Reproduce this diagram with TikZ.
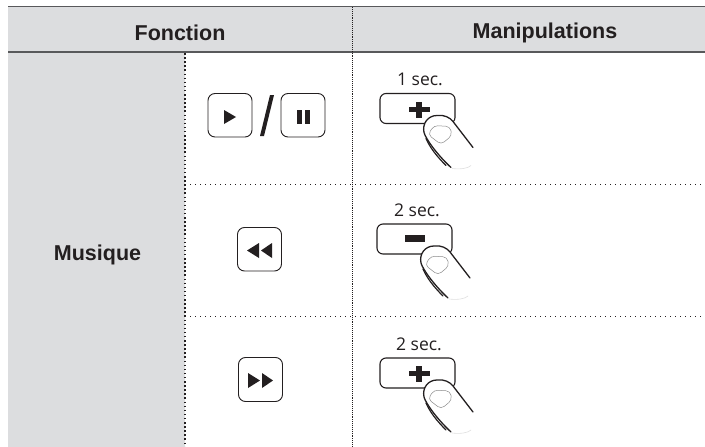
\documentclass[tikz,border=0pt]{standalone}
\usepackage{fontspec}
\setmainfont{Liberation Sans}
\newfontfamily\capfont{Open Sans}
\definecolor{hdrgray}{HTML}{DCDDDF}
\definecolor{ink}{HTML}{231F20}
\definecolor{rulegray}{HTML}{58595B}
\tikzset{
  headtext/.style={font=\fontsize{21.5}{24}\selectfont\bfseries,text=ink,inner sep=0pt,anchor=base},
  sectext/.style={font=\capfont\fontsize{17.5}{19}\selectfont,text=ink,inner sep=0pt,anchor=base},
  iconbtn/.style={draw=ink,line width=0.9pt,rounded corners=7pt,fill=white},
  pressbtn/.style={draw=ink,line width=1.1pt,rounded corners=6pt,fill=white},
  hdots/.style={draw=ink,line width=1pt,dash pattern=on 1pt off 4pt},
  vdotsheavy/.style={draw=ink,line width=1.2pt,dash pattern=on 1.5pt off 2.6pt},
  vdotsfine/.style={draw=ink,line width=0.8pt,dash pattern=on 0.9pt off 1pt},
  headrule/.style={draw=rulegray,line width=1.5pt},
  solidicon/.style={fill=ink,draw=none}
}
% #1 x, #2 y of the key's corner, #3 symbol (0 minus, 1 plus), #4 caption, #5 caption x, #6 caption baseline y
\newcommand{\presskey}[6]{%
\begin{scope}[shift={(#1,#2)}]
  \draw[pressbtn] (0,0) rectangle (75,30);
  \ifnum#3=1
    \fill[solidicon] (39-10.5,13) rectangle (39+10.5,18);
    \fill[solidicon] (39-2.8,8) rectangle (39+2.8,24);
  \else
    \fill[solidicon] (28,11) rectangle (48,18);
  \fi
  \node[sectext] at (#5,#6) {#4};
  \fill[white] (71,75) .. controls (58,62) and (46,46) .. (44,39)
     .. controls (42,30) and (48,22) .. (57,22)
     .. controls (64,21) and (70,24) .. (73,28) -- (94,55) -- (94,75) -- cycle;
  \draw[ink,line width=1.3pt,line cap=round] (71,74) .. controls (58,62) and (46,46) .. (44,39)
     .. controls (42,30) and (48,22) .. (57,22)
     .. controls (64,21) and (70,24) .. (73,28) -- (93,54);
  \draw[ink,line width=1.2pt,line cap=round] (66,72) .. controls (56,62) and (50,54) .. (46,45);
  \draw[black!45,line width=0.5pt,rounded corners=4pt] (48,41) -- (54,32) -- (70,33) -- (72,42) -- (61,51) -- cycle;
  \draw[black!12,line width=0.6pt] (72,75) .. controls (80,76) and (88,75) .. (91,72);
\end{scope}}
\begin{document}
\begin{tikzpicture}[x=1pt,y=-1pt]
\useasboundingbox (0,0) rectangle (705,447);
% backgrounds
\fill[hdrgray] (8,7) rectangle (705,52);
\fill[hdrgray] (8,52) rectangle (185,447);
\draw[headrule] (8,6.5) -- (705,6.5);
\draw[headrule] (8,52) -- (705,52);
% dotted grid
\draw[vdotsheavy] (185,53) -- (185,447);
\draw[vdotsfine] (352.5,7) -- (352.5,447);
\draw[hdots] (185,184) -- (705,184);
\draw[hdots] (185,316) -- (705,316);
% head text
\node[headtext] (fonction) at (180,41) {Fonction};
\node[headtext] (manip) at (545,38) {Manipulations};
\node[headtext] (musique) at (97.5,260) {Musique};
% icon buttons
\draw[iconbtn] (208,93.5) rectangle (252,137);
\fill[solidicon] (224,110) -- (236,117) -- (224,124) -- cycle;
\fill[ink] (260,136) -- (270,95) -- (274,95) -- (264,136) -- cycle;
\draw[iconbtn] (281,93.5) rectangle (325,137);
\fill[solidicon] (297,110) rectangle (302,124);
\fill[solidicon] (305,110) rectangle (310,124);
\draw[iconbtn] (237.5,227.5) rectangle (281.5,271);
\fill[solidicon] (259,243) -- (259,258) -- (247,250.5) -- cycle;
\fill[solidicon] (272,243) -- (272,258) -- (261,250.5) -- cycle;
\draw[iconbtn] (238.5,357.5) rectangle (282.5,401.5);
\fill[solidicon] (248,373) -- (248,388) -- (260,380.5) -- cycle;
\fill[solidicon] (262,373) -- (262,388) -- (273,380.5) -- cycle;
% press keys
\presskey{380}{93.5}{1}{1 sec.}{40}{-8.5}
\presskey{377}{224}{0}{2 sec.}{40}{-8}
\presskey{380}{358}{1}{2 sec.}{39}{-7.5}
\end{tikzpicture}
\end{document}
